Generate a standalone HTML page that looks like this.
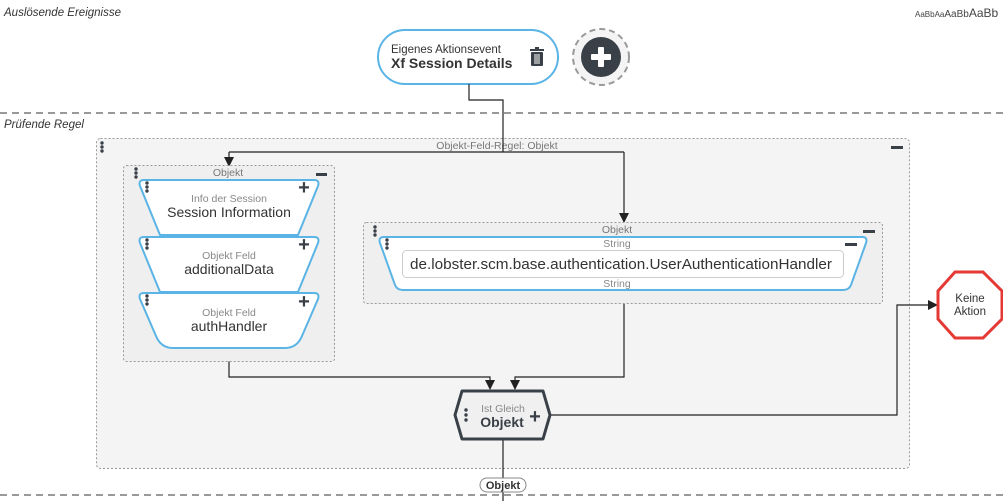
<!DOCTYPE html>
<html><head><meta charset="utf-8"><style>
html,body{margin:0;padding:0;background:#fff;width:1003px;height:501px;overflow:hidden}
svg{display:block;font-family:"Liberation Sans",sans-serif}
</style></head><body>
<svg width="1003" height="501" viewBox="0 0 1003 501" xmlns="http://www.w3.org/2000/svg">
<defs><marker id="a" markerWidth="10" markerHeight="10" refX="9" refY="5" orient="auto" markerUnits="userSpaceOnUse"><path d="M0,0 L10,5 L0,10 z" fill="#222"/></marker></defs>
<text x="4" y="16" font-size="11.5" font-style="italic" fill="#333">Auslösende Ereignisse</text>
<text x="915" y="17" fill="#444"><tspan font-size="8">AaBbAa</tspan><tspan font-size="10">AaBb</tspan><tspan font-size="12">AaBb</tspan></text>
<line x1="0" y1="113" x2="1003" y2="113" stroke="#999" stroke-width="2" stroke-dasharray="7,5"/>
<text x="4" y="128" font-size="11.5" font-style="italic" fill="#333">Prüfende Regel</text>
<line x1="0" y1="495" x2="1003" y2="495" stroke="#999" stroke-width="2" stroke-dasharray="7,5"/>

<rect x="96.5" y="138.5" width="813" height="330" rx="4" fill="#f4f4f4" stroke="#999" stroke-dasharray="2,2"/>
<text x="497" y="149" font-size="10.5" fill="#777" text-anchor="middle">Objekt-Feld-Regel: Objekt</text>
<g fill="#3a4047"><circle cx="102" cy="143" r="1.7"/><circle cx="102" cy="147" r="1.7"/><circle cx="102" cy="151" r="1.7"/></g>
<rect x="891" y="146" width="12" height="3" fill="#3a4047"/>

<!-- event -->
<rect x="378" y="30" width="180" height="54" rx="27" fill="#fff" stroke="#5ab4e5" stroke-width="2"/>
<text x="391" y="53" font-size="11.5" fill="#333">Eigenes Aktionsevent</text>
<text x="391" y="68" font-size="14" font-weight="bold" fill="#333">Xf Session Details</text>
<g fill="#3a4047"><rect x="530" y="49" width="14" height="2"/><rect x="535" y="47" width="4" height="2"/><rect x="531" y="52" width="12" height="14" rx="1"/></g>
<g stroke="#fff" stroke-width="1"><line x1="535" y1="54" x2="535" y2="64"/><line x1="537" y1="54" x2="537" y2="64"/><line x1="539" y1="54" x2="539" y2="64"/></g>
<circle cx="601" cy="57" r="28" fill="#f4f4f4" stroke="#999" stroke-width="2" stroke-dasharray="6,4"/>
<circle cx="601" cy="57" r="20" fill="#3a4047"/>
<rect x="591" y="54" width="20" height="6" rx="1" fill="#fff"/><rect x="598" y="47" width="6" height="20" rx="1" fill="#fff"/>

<!-- connectors -->
<g fill="none" stroke="#222" stroke-width="1.2">
<path d="M469,84 V100 H503 V152"/>
<path d="M229,152 H624"/>
<path d="M229,152 V166" marker-end="url(#a)"/>
<path d="M624,152 V222" marker-end="url(#a)"/>
<path d="M229,361 V377 H490 V389" marker-end="url(#a)"/>
<path d="M624,303 V377 H515 V389" marker-end="url(#a)"/>
<path d="M550,415 H897 V305 H937" marker-end="url(#a)"/>
<path d="M503,440 V501"/>
</g>

<!-- left objekt box -->
<rect x="123.5" y="165.5" width="211" height="196" rx="3" fill="#efefef" stroke="#999" stroke-dasharray="2,2"/>
<text x="228" y="176" font-size="10.5" fill="#777" text-anchor="middle">Objekt</text>
<g fill="#3a4047"><circle cx="136" cy="169" r="1.7"/><circle cx="136" cy="173" r="1.7"/><circle cx="136" cy="177" r="1.7"/></g>
<rect x="316" y="173" width="11" height="3" fill="#3a4047"/>
<g stroke="#5ab4e5" stroke-width="2" fill="#fff">
<path d="M144,180 H314 Q320,180 318,186 L298,235 H160 L140,186 Q138,180 144,180 Z"/>
<path d="M144,237 H314 Q320,237 318,243 L298,292 H160 L140,243 Q138,237 144,237 Z"/>
<path d="M144,293 H314 Q320,293 318,299 L302,336 Q297,348 285,348 H173 Q161,348 156,336 L140,299 Q138,293 144,293 Z"/>
</g>
<g fill="#3a4047">
<circle cx="147" cy="183" r="1.7"/><circle cx="147" cy="187" r="1.7"/><circle cx="147" cy="191" r="1.7"/>
<circle cx="147" cy="240" r="1.7"/><circle cx="147" cy="244" r="1.7"/><circle cx="147" cy="248" r="1.7"/>
<circle cx="147" cy="296" r="1.7"/><circle cx="147" cy="300" r="1.7"/><circle cx="147" cy="304" r="1.7"/>
</g>
<g font-size="20" font-weight="bold" fill="#3a4047" text-anchor="middle"><text x="304" y="194">+</text><text x="304" y="251">+</text><text x="304" y="308">+</text></g>
<g text-anchor="middle">
<text x="229" y="202" font-size="10.5" fill="#888">Info der Session</text>
<text x="229" y="217" font-size="14" fill="#333">Session Information</text>
<text x="229" y="259" font-size="10.5" fill="#888">Objekt Feld</text>
<text x="229" y="274" font-size="14" fill="#333">additionalData</text>
<text x="229" y="316" font-size="10.5" fill="#888">Objekt Feld</text>
<text x="229" y="331" font-size="14" fill="#333">authHandler</text>
</g>

<!-- right objekt box -->
<rect x="363.5" y="222.5" width="519" height="81" rx="3" fill="#efefef" stroke="#999" stroke-dasharray="2,2"/>
<text x="617" y="233" font-size="10.5" fill="#777" text-anchor="middle">Objekt</text>
<g fill="#3a4047"><circle cx="375" cy="227" r="1.7"/><circle cx="375" cy="231" r="1.7"/><circle cx="375" cy="235" r="1.7"/></g>
<rect x="863" y="230" width="12" height="3" fill="#3a4047"/>
<path d="M384,237 H862 Q868,237 866,243 L851,285 Q849,290 843,290 H403 Q397,290 395,285 L380,243 Q378,237 384,237 Z" fill="#fff" stroke="#5ab4e5" stroke-width="2"/>
<g fill="#3a4047"><circle cx="387" cy="240" r="1.7"/><circle cx="387" cy="244" r="1.7"/><circle cx="387" cy="248" r="1.7"/></g>
<rect x="845" y="243" width="12" height="3" fill="#3a4047"/>
<text x="617" y="247" font-size="10.5" fill="#888" text-anchor="middle">String</text>
<rect x="402.5" y="250.5" width="441" height="27" rx="4" fill="#fff" stroke="#ccc"/>
<text x="410" y="269" font-size="15" fill="#333" textLength="422" lengthAdjust="spacingAndGlyphs">de.lobster.scm.base.authentication.UserAuthenticationHandler</text>
<text x="617" y="287" font-size="10.5" fill="#888" text-anchor="middle">String</text>

<!-- hexagon -->
<path d="M462,391 H543 L550,415 L543,439 H462 L455,415 Z" fill="#f0f0f0" stroke="#3a4047" stroke-width="3" stroke-linejoin="round"/>
<g fill="#3a4047"><circle cx="466" cy="410" r="1.7"/><circle cx="466" cy="415" r="1.7"/><circle cx="466" cy="420" r="1.7"/></g>
<text x="503" y="412" font-size="10.5" fill="#888" text-anchor="middle">Ist Gleich</text>
<text x="502" y="427" font-size="14" font-weight="bold" fill="#3a4047" text-anchor="middle">Objekt</text>
<text x="535" y="423" font-size="20" font-weight="bold" fill="#3a4047" text-anchor="middle">+</text>

<!-- octagon -->
<path d="M955,272 H983 L1002,291 V319 L983,338 H955 L938,319 V291 Z" fill="#fff" stroke="#e53935" stroke-width="3"/>
<text x="970" y="302" font-size="11.5" fill="#333" text-anchor="middle">Keine</text>
<text x="970" y="315" font-size="11.5" fill="#333" text-anchor="middle">Aktion</text>

<!-- bottom pill -->
<rect x="480" y="478" width="46" height="14" rx="7" fill="#fff" stroke="#888"/>
<text x="503" y="489" font-size="11" font-weight="bold" fill="#333" text-anchor="middle">Objekt</text>
</svg>
</body></html>
